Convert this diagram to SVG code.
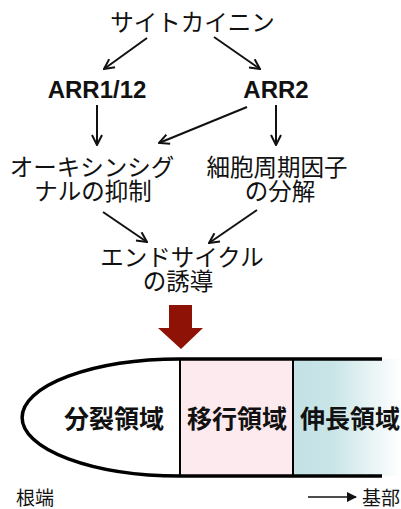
<svg xmlns="http://www.w3.org/2000/svg" width="401" height="509" viewBox="0 0 401 509">
<defs>
<style>
.t{font-family:"Noto Sans CJK JP","Noto Sans",sans-serif;font-size:23.5px;fill:#111;text-anchor:middle}
.b{font-family:"Liberation Sans","Noto Sans CJK JP",sans-serif;font-weight:bold;font-size:24px;fill:#111;text-anchor:middle}
.z{font-family:"Noto Sans CJK JP",sans-serif;font-weight:bold;font-size:25px;fill:#111;text-anchor:middle}
.s{font-family:"Noto Sans CJK JP",sans-serif;font-size:19px;fill:#111}
.c{stroke:#111;stroke-width:2;fill:none;marker-end:url(#ah)}
.r{stroke:#000;stroke-width:3.5;fill:none}
</style>
<marker id="ah" viewBox="0 0 12 12" refX="11" refY="6" markerWidth="6" markerHeight="6" orient="auto" markerUnits="strokeWidth">
<path d="M1,1 L11,6 L1,11" fill="none" stroke="#111" stroke-width="2"/>
</marker>
<marker id="ah2" viewBox="0 0 10 10" refX="9" refY="5" markerWidth="7" markerHeight="7" orient="auto" markerUnits="strokeWidth">
<path d="M0,0 L10,5 L0,10 z" fill="#111"/>
</marker>
<linearGradient id="blue" x1="293" y1="0" x2="401" y2="0" gradientUnits="userSpaceOnUse">
<stop offset="0" stop-color="#c3e2e5"/>
<stop offset="0.35" stop-color="#c8e4e7"/>
<stop offset="1" stop-color="#ffffff"/>
</linearGradient>
</defs>
<rect width="401" height="509" fill="#fff"/>

<g id="cytokinin"><text class="t" x="192.5" y="31">サイトカイニン</text></g>
<g id="arr1"><text class="b" x="97" y="98">ARR1/12</text></g>
<g id="arr2"><text class="b" x="276" y="98">ARR2</text></g>
<g id="auxin"><text class="t" y="176"><tspan x="92">オーキシンシグ</tspan><tspan x="93" dy="23.5">ナルの抑制</tspan></text></g>
<g id="cellcycle"><text class="t" y="176"><tspan x="277">細胞周期因子</tspan><tspan x="280" dy="23.5">の分解</tspan></text></g>
<g id="endocycle"><text class="t" y="266"><tspan x="182">エンドサイクル</tspan><tspan x="178" dy="23.5">の誘導</tspan></text></g>

<g id="connectors">
<line class="c" x1="147" y1="38" x2="104" y2="69"/>
<line class="c" x1="214" y1="37" x2="260" y2="69"/>
<line class="c" x1="97" y1="105" x2="97" y2="145"/>
<line class="c" x1="276" y1="105" x2="276" y2="145"/>
<line class="c" x1="247" y1="107" x2="159" y2="143"/>
<line class="c" x1="103" y1="212" x2="147" y2="242"/>
<line class="c" x1="257" y1="210" x2="209" y2="243"/>
</g>

<g id="bigarrow">
<path d="M169,305 H192 V328 H203 L181,349 L158,328 H169 Z" fill="#8e1306"/>
</g>

<g id="root">
<rect x="180" y="359" width="113" height="117" fill="#fdeaef"/>
<rect x="293" y="359" width="108" height="117" fill="url(#blue)"/>
<path class="r" d="M382,359 H180 A158,58.5 0 0 0 180,476 H382"/>
<line x1="180" y1="359" x2="180" y2="476" stroke="#000" stroke-width="2"/>
<line x1="293" y1="359" x2="293" y2="476" stroke="#000" stroke-width="2"/>
<text class="z" x="114" y="428">分裂領域</text>
<text class="z" x="237" y="428">移行領域</text>
<text class="z" x="350" y="428">伸長領域</text>
</g>

<g id="labels">
<text class="s" x="16" y="505">根端</text>
<line x1="308" y1="497" x2="356" y2="497" stroke="#111" stroke-width="1.5" marker-end="url(#ah2)"/>
<text class="s" x="362" y="505">基部</text>
</g>
</svg>
